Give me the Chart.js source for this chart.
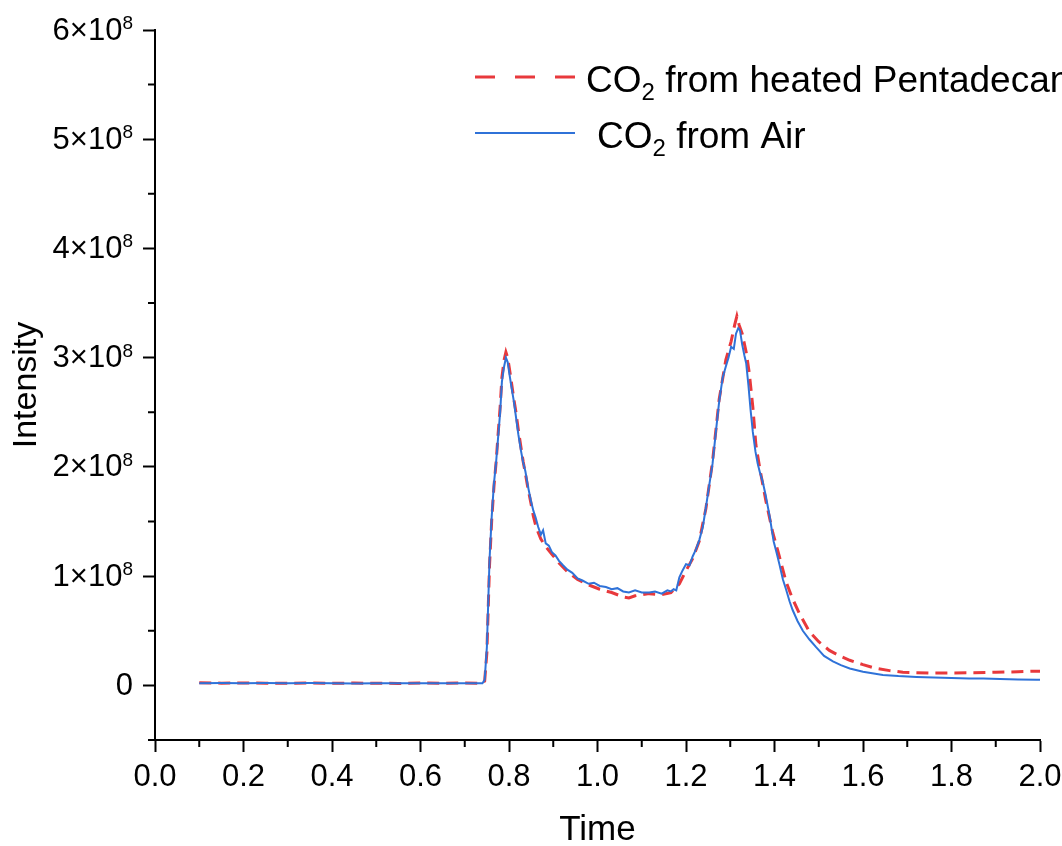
<!DOCTYPE html>
<html>
<head>
<meta charset="utf-8">
<script src="https://cdn.jsdelivr.net/npm/chart.js@4.4.1/dist/chart.umd.min.js"></script>
<style>
  html, body { margin: 0; padding: 0; background: #fff; }
</style>
</head>
<body>
<canvas id="chart" width="1062" height="846"></canvas>
<script>
// axis ticks
const xTicks = [0, 0.2, 0.4, 0.6, 0.8, 1.0, 1.2, 1.4, 1.6, 1.8, 2.0]
const xMinor = [0.1, 0.3, 0.5, 0.7, 0.9, 1.1, 1.3, 1.5, 1.7, 1.9]
const yTicks = [0, 1, 2, 3, 4, 5, 6]          // x 10^8
const yMinor = [-0.5, 0.5, 1.5, 2.5, 3.5, 4.5, 5.5]

// CO2 from heated Pentadecane (intensity in 10^8)
const pentaTime = [
  0.10, 0.15, 0.20, 0.25, 0.30, 0.35, 0.40, 0.45, 0.50, 0.55, 0.60, 0.65, 0.70, 0.74,
  0.745, 0.750, 0.756, 0.761, 0.766, 0.771, 0.775, 0.780, 0.784, 0.789, 0.793, 0.797,
  0.801, 0.806, 0.811, 0.815, 0.821, 0.827, 0.832, 0.837, 0.843, 0.849, 0.855, 0.860,
  0.866, 0.872, 0.883, 0.897, 0.913, 0.932, 0.955, 0.980, 1.005, 1.032, 1.058, 1.071,
  1.085, 1.100, 1.117, 1.145, 1.166, 1.185, 1.200, 1.215, 1.230, 1.245, 1.260, 1.275,
  1.290, 1.302, 1.310, 1.315, 1.320, 1.327, 1.336, 1.343, 1.351, 1.358, 1.367, 1.381,
  1.396, 1.411, 1.426, 1.440, 1.456, 1.479, 1.500, 1.524, 1.550, 1.570, 1.600, 1.630,
  1.660, 1.690, 1.750, 1.796, 1.850, 1.900, 1.950, 1.992, 2.000
]
const pentaIntensity = [
  0.025, 0.020, 0.022, 0.020, 0.020, 0.022, 0.019, 0.021, 0.020, 0.018, 0.021, 0.020, 0.022, 0.020,
  0.04, 0.30, 1.10, 1.52, 1.82, 2.05, 2.28, 2.55, 2.82, 2.98, 3.05, 3.00,
  2.90, 2.76, 2.62, 2.52, 2.34, 2.18, 2.05, 1.94, 1.80, 1.68, 1.55, 1.47,
  1.40, 1.34, 1.27, 1.20, 1.12, 1.04, 0.97, 0.92, 0.88, 0.85, 0.81, 0.80,
  0.82, 0.83, 0.84, 0.83, 0.85, 0.93, 1.05, 1.16, 1.32, 1.62, 2.05, 2.62,
  2.98, 3.15, 3.30, 3.38, 3.30, 3.22, 3.05, 2.86, 2.55, 2.20, 1.98, 1.68,
  1.40, 1.18, 0.95, 0.80, 0.66, 0.49, 0.40, 0.32, 0.265, 0.23, 0.19, 0.155,
  0.135, 0.12, 0.112, 0.114, 0.116, 0.12, 0.125, 0.13, 0.13
]

// CO2 from Air (intensity in 10^8)
const airTime = [
  0.10, 0.15, 0.20, 0.25, 0.30, 0.35, 0.40, 0.45, 0.50, 0.55, 0.60, 0.65, 0.70, 0.74,
  0.745, 0.750, 0.756, 0.761, 0.766, 0.771, 0.775, 0.780, 0.784, 0.789, 0.793, 0.797,
  0.801, 0.806, 0.811, 0.815, 0.821, 0.827, 0.832, 0.837, 0.843, 0.849, 0.855, 0.860,
  0.866, 0.872, 0.877, 0.883, 0.890, 0.897, 0.905, 0.913, 0.922, 0.932, 0.943, 0.955,
  0.966, 0.980, 0.992, 1.005, 1.019, 1.032, 1.045, 1.058, 1.071, 1.085, 1.100, 1.117,
  1.130, 1.145, 1.158, 1.166, 1.172, 1.178, 1.185, 1.192, 1.200, 1.208, 1.215, 1.223,
  1.230, 1.238, 1.245, 1.252, 1.260, 1.268, 1.275, 1.283, 1.290, 1.296, 1.302, 1.308,
  1.313, 1.318, 1.322, 1.327, 1.332, 1.336, 1.341, 1.346, 1.351, 1.357, 1.362, 1.367,
  1.373, 1.380, 1.389, 1.398, 1.405, 1.411, 1.419, 1.426, 1.434, 1.441, 1.452, 1.464,
  1.479, 1.494, 1.512, 1.532, 1.550, 1.570, 1.600, 1.645, 1.680, 1.721, 1.760, 1.800,
  1.840, 1.872, 1.910, 1.950, 1.992, 2.000
]
const airIntensity = [
  0.020, 0.022, 0.020, 0.021, 0.019, 0.021, 0.020, 0.018, 0.019, 0.020, 0.019, 0.020, 0.019, 0.020,
  0.05, 0.35, 1.15, 1.55, 1.85, 2.05, 2.25, 2.50, 2.78, 2.92, 3.00, 2.96,
  2.85, 2.72, 2.60, 2.48, 2.30, 2.15, 2.04, 1.96, 1.82, 1.70, 1.60, 1.54,
  1.45, 1.38, 1.42, 1.30, 1.28, 1.22, 1.19, 1.14, 1.10, 1.06, 1.03, 0.98,
  0.96, 0.93, 0.94, 0.91, 0.90, 0.88, 0.89, 0.86, 0.85, 0.87, 0.85, 0.85,
  0.86, 0.84, 0.87, 0.86, 0.88, 0.87, 0.99, 1.05, 1.11, 1.10, 1.18, 1.25,
  1.33, 1.45, 1.63, 1.82, 2.03, 2.34, 2.60, 2.82, 2.92, 3.00, 3.10, 3.08,
  3.22, 3.27, 3.25, 3.12, 3.02, 2.95, 2.75, 2.52, 2.32, 2.14, 2.03, 1.95,
  1.87, 1.74, 1.55, 1.32, 1.21, 1.11, 0.97, 0.88, 0.77, 0.69, 0.59, 0.50,
  0.42, 0.35, 0.27, 0.22, 0.185, 0.155, 0.125, 0.095, 0.085, 0.077, 0.072, 0.068,
  0.064, 0.062, 0.058, 0.055, 0.052, 0.052
]

const FONT = "'Liberation Sans', Arial, sans-serif"
const RED = '#e8393c'
const BLUE = '#2f72d8'

const toPoints = (xs, ys) => xs.map((x, i) => ({ x, y: ys[i] }))

// minor ticks on both axes (Chart.js has no minor ticks of its own)
const minorTicks = {
  id: 'minorTicks',
  afterDraw(chart) {
    const { ctx, scales: { x, y } } = chart
    ctx.save()
    ctx.strokeStyle = '#000'
    ctx.lineWidth = 2
    ctx.beginPath()
    xMinor.forEach(v => {
      const px = x.getPixelForValue(v)
      ctx.moveTo(px, y.bottom)
      ctx.lineTo(px, y.bottom + 7)
    })
    yMinor.forEach(v => {
      const py = y.getPixelForValue(v)
      ctx.moveTo(x.left - 7, py)
      ctx.lineTo(x.left, py)
    })
    ctx.stroke()
    ctx.restore()
  }
}

// y tick labels as n×10^8 with a real superscript
const yLabels = {
  id: 'yLabels',
  afterDraw(chart) {
    const { ctx, scales: { y } } = chart
    const right = y.right - 22
    ctx.save()
    ctx.fillStyle = '#000'
    yTicks.forEach(v => {
      const py = y.getPixelForValue(v)
      ctx.textBaseline = 'middle'
      ctx.textAlign = 'left'
      ctx.font = `31px ${FONT}`
      if (v === 0) {
        ctx.textAlign = 'right'
        ctx.fillText('0', right, py + 1)
        return
      }
      const main = `${v}×10`
      const mw = ctx.measureText(main).width
      ctx.font = `19px ${FONT}`
      const sw = ctx.measureText('8').width
      ctx.textBaseline = 'alphabetic'
      ctx.fillText('8', right - sw, py - 1)
      ctx.font = `31px ${FONT}`
      ctx.textBaseline = 'middle'
      ctx.fillText(main, right - sw - mw, py + 1)
    })
    ctx.restore()
  }
}

// legend with subscript "2"
const co2Legend = {
  id: 'co2Legend',
  afterDraw(chart) {
    const { ctx } = chart
    const rows = [
      { label: ' from heated Pentadecane', color: RED, dash: [20, 20], width: 3, y: 77, textX: 586 },
      { label: ' from Air', color: BLUE, dash: [], width: 2, y: 133, textX: 597 },
    ]
    ctx.save()
    rows.forEach(r => {
      ctx.strokeStyle = r.color
      ctx.lineWidth = r.width
      ctx.setLineDash(r.dash)
      ctx.beginPath()
      ctx.moveTo(475, r.y)
      ctx.lineTo(575, r.y)
      ctx.stroke()

      ctx.setLineDash([])
      ctx.fillStyle = '#000'
      ctx.textBaseline = 'alphabetic'
      const base = r.y + 15
      let x = r.textX
      ctx.font = `37px ${FONT}`
      ctx.fillText('CO', x, base)
      x += ctx.measureText('CO').width
      ctx.font = `24px ${FONT}`
      ctx.fillText('2', x, base + 8)
      x += ctx.measureText('2').width
      ctx.font = `37px ${FONT}`
      ctx.fillText(r.label, x, base)
    })
    ctx.restore()
  }
}

const axisGrid = {
  display: true,
  drawOnChartArea: false,
  drawTicks: true,
  tickLength: 12,
  tickWidth: 2,
  tickColor: '#000',
}
const axisBorder = { display: true, width: 2, color: '#000' }

new Chart(document.getElementById('chart'), {
  type: 'line',
  data: {
    datasets: [
      {
        label: 'CO2 from heated Pentadecane',
        data: toPoints(pentaTime, pentaIntensity),
        borderColor: RED,
        borderWidth: 3,
        borderDash: [12, 7],
        pointRadius: 0,
        tension: 0,
        order: 1,
      },
      {
        label: 'CO2 from Air',
        data: toPoints(airTime, airIntensity),
        borderColor: BLUE,
        borderWidth: 2,
        pointRadius: 0,
        tension: 0,
        order: 0,
      },
    ],
  },
  options: {
    responsive: false,
    animation: false,
    layout: { padding: { top: 30, right: 22, left: 0, bottom: 0 } },
    plugins: { legend: { display: false }, tooltip: { enabled: false } },
    scales: {
      x: {
        type: 'linear',
        min: 0,
        max: 2,
        afterBuildTicks: s => { s.ticks = xTicks.map(value => ({ value })) },
        afterFit: s => { s.height = 106; s.paddingLeft = 0; s.paddingRight = 0 },
        ticks: {
          callback: v => v.toFixed(1),
          font: { family: FONT, size: 31 },
          color: '#000',
          padding: 7,
          maxRotation: 0,
          autoSkip: false,
        },
        grid: axisGrid,
        border: axisBorder,
        title: {
          display: true,
          text: 'Time',
          color: '#000',
          font: { family: FONT, size: 35, lineHeight: 0.9 },
          padding: { top: 0, bottom: 0 },
        },
      },
      y: {
        type: 'linear',
        min: -0.5,
        max: 6,
        afterBuildTicks: s => { s.ticks = yTicks.map(value => ({ value })) },
        afterFit: s => { s.width = 155; s.paddingTop = 0; s.paddingBottom = 0 },
        ticks: { display: false },
        grid: axisGrid,
        border: axisBorder,
        title: {
          display: true,
          text: 'Intensity',
          color: '#000',
          font: { family: FONT, size: 34, lineHeight: 1 },
          padding: { top: 10, bottom: 0 },
        },
      },
    },
  },
  plugins: [minorTicks, yLabels, co2Legend],
})
</script>
</body>
</html>
